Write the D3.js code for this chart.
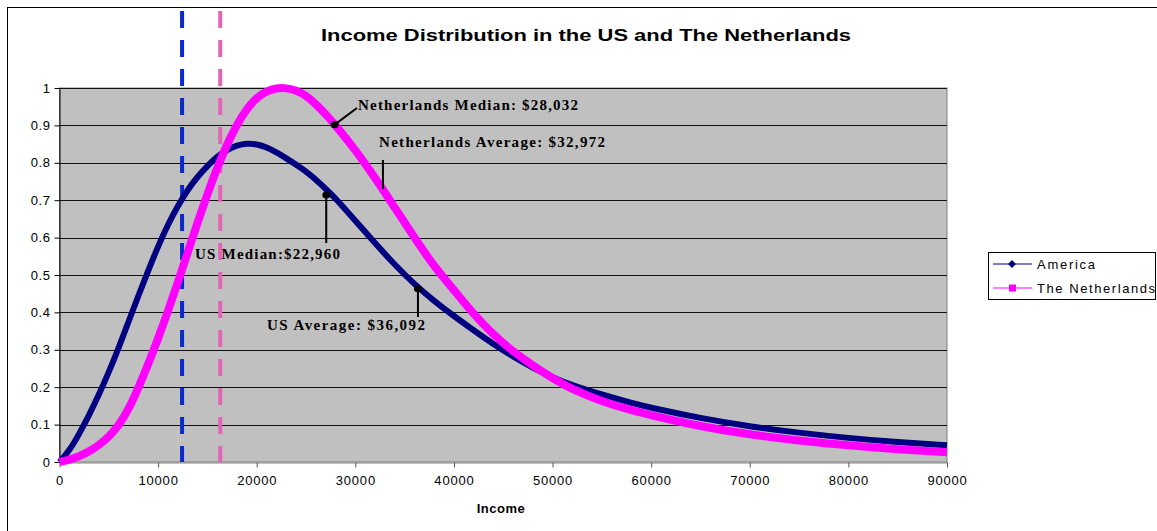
<!DOCTYPE html>
<html lang="en">
<head>
    <meta charset="UTF-8">
    <title>Income Distribution in the US and The Netherlands</title>
    <script src="https://d3js.org/d3.v7.min.js"></script>
    <style>
        body { margin: 0; background: #fff; }
        .sans { font-family: Arial, "Liberation Sans", sans-serif; }
        .serif { font-family: "Times New Roman", "Liberation Serif", serif; font-weight: bold; }
    </style>
</head>
<body>
    <script>
        // DATA
        var income = [0, 1000, 2000, 3000, 4000, 5000, 6000, 7000, 8000, 9000,
            10000, 11000, 12000, 13000, 14000, 15000, 16000, 17000, 18000, 19000,
            20000, 21000, 22000, 23000, 24000, 25000, 26000, 27000, 28000, 30000,
            32000, 34000, 36000, 38000, 40000, 42000, 44000, 46000, 48000, 50000,
            52000, 55000, 58000, 60000, 65000, 70000, 75000, 80000, 85000, 90000];

        var america = [0, 0.03, 0.075, 0.125, 0.18, 0.24, 0.305, 0.375, 0.445, 0.512,
            0.577, 0.635, 0.685, 0.728, 0.763, 0.792, 0.817, 0.835, 0.847, 0.852,
            0.85, 0.842, 0.828, 0.812, 0.795, 0.777, 0.755, 0.73, 0.705, 0.645,
            0.585, 0.527, 0.475, 0.43, 0.39, 0.352, 0.315, 0.282, 0.252, 0.226,
            0.205, 0.18, 0.158, 0.145, 0.117, 0.095, 0.078, 0.064, 0.053, 0.045];

        var netherlands = [0, 0.006, 0.015, 0.028, 0.045, 0.067, 0.097, 0.14, 0.198, 0.262,
            0.33, 0.403, 0.48, 0.56, 0.64, 0.717, 0.787, 0.85, 0.903, 0.945,
            0.975, 0.992, 1.0, 1.0, 0.994, 0.98, 0.957, 0.93, 0.9, 0.835,
            0.76, 0.68, 0.6, 0.522, 0.46, 0.395, 0.34, 0.295, 0.258, 0.224,
            0.194, 0.162, 0.138, 0.125, 0.095, 0.073, 0.057, 0.044, 0.034, 0.026];

        var seriesNames = ["America", "The Netherlands"];
        var seriesColors = ["#000080", "#ff00ff"];

        var xTicks = [0, 10000, 20000, 30000, 40000, 50000, 60000, 70000, 80000, 90000];
        var yTicks = [0, 0.1, 0.2, 0.3, 0.4, 0.5, 0.6, 0.7, 0.8, 0.9, 1];

        // dashed reference lines (income)
        var refIncome = [12430, 16300];
        var refColors = ["#0a2ac8", "#e264b4"];

        // annotations: label, anchor point on the curve (income, value)
        var noteLabels = ["Netherlands Median: $28,032", "Netherlands Average: $32,972",
            "US Median:$22,960", "US Average: $36,092"];
        var noteIncome = [27900, 32800, 27050, 36350];
        var noteValue = [0.902, 0.727, 0.714, 0.463];

        var width = 1157, height = 531;

        var svg = d3.select("body").append("svg")
            .attr("width", width)
            .attr("height", height);

        // chart border
        svg.append("rect")
            .attr("x", 7.5).attr("y", 7.5)
            .attr("width", 1200).attr("height", 600)
            .attr("fill", "#fff")
            .attr("stroke", "#000");

        var x = d3.scaleLinear().domain([0, 90000]).range([59.5, 947]);
        var y = d3.scaleLinear().domain([0, 1]).range([462, 88]);

        // plot area
        svg.append("rect")
            .attr("x", x(0)).attr("y", y(1))
            .attr("width", x(90000) - x(0)).attr("height", y(0) - y(1))
            .attr("fill", "#c0c0c0")
            .attr("stroke", "#808080");

        // gridlines
        svg.append("g").selectAll("line")
            .data(yTicks.slice(1))
            .enter().append("line")
            .attr("x1", x(0)).attr("x2", x(90000))
            .attr("y1", function(d) { return Math.round(y(d)) + 0.5; })
            .attr("y2", function(d) { return Math.round(y(d)) + 0.5; })
            .attr("stroke", "#111")
            .attr("stroke-width", 1);

        // axes
        var xAxis = svg.append("g")
            .attr("transform", "translate(0," + (y(0) + 0.5) + ")")
            .call(d3.axisBottom(x).tickValues(xTicks).tickSize(5).tickSizeOuter(0)
                .tickFormat(d3.format("d")));
        xAxis.select(".domain").attr("stroke", "#808080");
        xAxis.selectAll(".tick line").attr("stroke", "#555");
        xAxis.selectAll("text")
            .attr("class", "sans")
            .attr("font-size", "13px")
            .attr("letter-spacing", "0.8px")
            .attr("fill", "#000")
            .attr("dy", "1.15em");

        var yAxis = svg.append("g")
            .attr("transform", "translate(" + x(0) + ",0)")
            .call(d3.axisLeft(y).tickValues(yTicks).tickSize(5).tickSizeOuter(0)
                .tickFormat(function(d) { return d === 0 ? "0" : d === 1 ? "1" : d.toFixed(1); }));
        yAxis.select(".domain").attr("stroke", "#000");
        yAxis.selectAll(".tick line").attr("stroke", "#000");
        yAxis.selectAll("text")
            .attr("class", "sans")
            .attr("font-size", "13px")
            .attr("letter-spacing", "0.6px")
            .attr("fill", "#000")
            .attr("x", -9);

        // dashed reference lines
        svg.append("g").selectAll("line")
            .data(refIncome)
            .enter().append("line")
            .attr("x1", function(d) { return x(d); })
            .attr("x2", function(d) { return x(d); })
            .attr("y1", 11).attr("y2", y(0))
            .attr("stroke", function(d, i) { return refColors[i]; })
            .attr("stroke-width", 4)
            .attr("stroke-dasharray", "17,12");

        // curves
        var line = d3.line()
            .x(function(d) { return x(d[0]); })
            .y(function(d) { return y(d[1]); })
            .curve(d3.curveBasis);

        var series = [america, netherlands];
        var widths = [6, 8];
        series.forEach(function(vals, i) {
            svg.append("path")
                .datum(income.map(function(v, j) { return [v, vals[j]]; }))
                .attr("fill", "none")
                .attr("stroke", seriesColors[i])
                .attr("stroke-width", widths[i])
                .attr("stroke-linejoin", "round")
                .attr("d", line);
        });

        // annotations
        var notes = svg.append("g");

        var noteText = [
            { tx: 358, ty: 110, len: 220 },
            { tx: 379, ty: 147, len: 226 },
            { tx: 195, ty: 259, len: 145 },
            { tx: 267, ty: 330, len: 158 }
        ];
        noteLabels.forEach(function(label, i) {
            var px = x(noteIncome[i]), py = y(noteValue[i]);
            notes.append("text")
                .attr("class", "serif")
                .attr("font-size", "15px")
                .attr("x", noteText[i].tx).attr("y", noteText[i].ty)
                .attr("textLength", noteText[i].len)
                .attr("lengthAdjust", "spacing")
                .attr("fill", "#000")
                .text(label);
            var x2, y2;
            if (i === 0) { x2 = 357; y2 = 108; }
            else if (i === 1) { x2 = px; y2 = 160; py = py - 1; }
            else if (i === 2) { x2 = px; y2 = 243; }
            else { x2 = px; y2 = 317; }
            notes.append("line")
                .attr("x1", px).attr("y1", py)
                .attr("x2", x2).attr("y2", y2)
                .attr("stroke", "#000")
                .attr("stroke-width", 2);
            if (i !== 1) {
                notes.append("ellipse")
                    .attr("cx", px).attr("cy", py)
                    .attr("rx", 4).attr("ry", 3.5)
                    .attr("fill", "#000");
            }
        });

        // title
        svg.append("text")
            .attr("class", "sans")
            .attr("x", 586).attr("y", 41)
            .attr("text-anchor", "middle")
            .attr("font-size", "17px")
            .attr("font-weight", "bold")
            .attr("textLength", 530)
            .attr("lengthAdjust", "spacingAndGlyphs")
            .attr("fill", "#000")
            .text("Income Distribution in the US and The Netherlands");

        // x axis title
        svg.append("text")
            .attr("class", "sans")
            .attr("x", 501).attr("y", 513)
            .attr("text-anchor", "middle")
            .attr("font-size", "13px")
            .attr("font-weight", "bold")
            .attr("letter-spacing", "0.5px")
            .attr("fill", "#000")
            .text("Income");

        // legend
        var legend = svg.append("g");
        legend.append("rect")
            .attr("x", 988.5).attr("y", 252.5)
            .attr("width", 167).attr("height", 47)
            .attr("fill", "#fff")
            .attr("stroke", "#000");

        var legendLen = [58, 118];
        seriesNames.forEach(function(name, i) {
            var ly = 264 + i * 24;
            legend.append("line")
                .attr("x1", 993).attr("x2", 1032)
                .attr("y1", ly).attr("y2", ly)
                .attr("stroke", seriesColors[i])
                .attr("stroke-width", 1);
            if (i === 0) {
                legend.append("path")
                    .attr("d", d3.symbol(d3.symbolDiamond2, 40))
                    .attr("transform", "translate(1012," + ly + ")")
                    .attr("fill", seriesColors[i]);
            } else {
                legend.append("rect")
                    .attr("x", 1009).attr("y", ly - 3.5)
                    .attr("width", 7).attr("height", 7)
                    .attr("fill", seriesColors[i]);
            }
            legend.append("text")
                .attr("class", "sans")
                .attr("x", 1037).attr("y", ly + 5)
                .attr("font-size", "13px")
                .attr("textLength", legendLen[i])
                .attr("lengthAdjust", "spacing")
                .attr("fill", "#000")
                .text(name);
        });
    </script>
</body>
</html>
